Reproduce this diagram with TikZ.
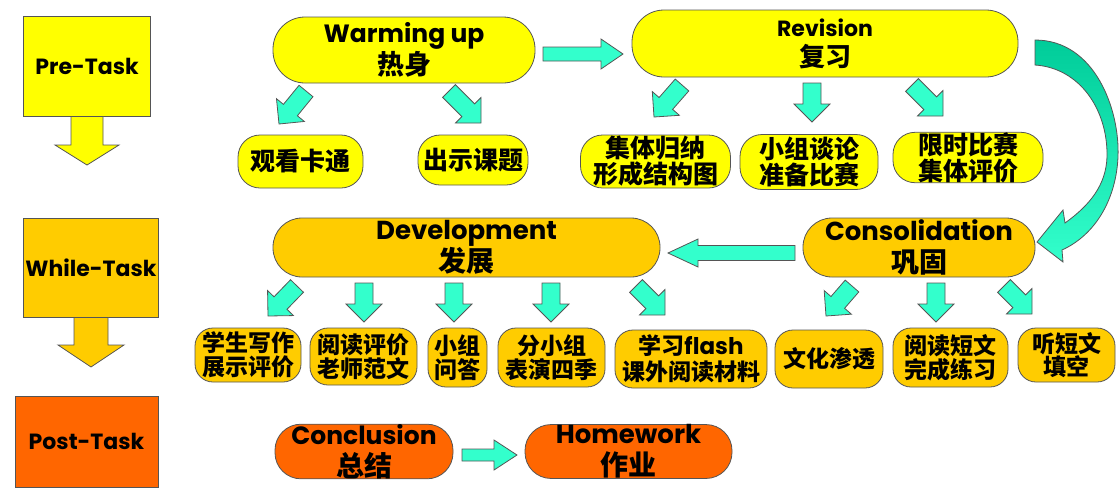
\documentclass[tikz,border=0pt]{standalone}
\usepackage{fontspec}
\usetikzlibrary{calc}
\newfontfamily\enfont{Poppins}
\newfontfamily\cjk{Noto Sans CJK SC}
\definecolor{TaskYellow}{HTML}{FFFF00}
\definecolor{TaskGold}{HTML}{FFCC00}
\definecolor{TaskOrange}{HTML}{FF6600}
\definecolor{ArrowCyan}{HTML}{33FFCC}
\definecolor{ArrowTeal}{HTML}{00CC99}
\definecolor{EdgeGray}{HTML}{555555}
\newcommand{\en}[1]{{\enfont\bfseries #1}}
\newcommand{\zh}[1]{{\cjk\bfseries #1}}
% fat block arrow: [fill]{from}{to}{shaft half}{head half}{head length}
\newcommand{\fatarrow}[6][ArrowCyan]{%
  \coordinate (hb) at ($(#3)!#6!(#2)$);
  \draw[fill=#1, draw=EdgeGray, line width=0.4pt]
    ($(#2)!#4!90:(#3)$) -- ($(hb)!#4!90:(#3)$) -- ($(hb)!#5!90:(#3)$) -- (#3)
    -- ($(hb)!#5!-90:(#3)$) -- ($(hb)!#4!-90:(#3)$) -- ($(#2)!#4!-90:(#3)$) -- cycle;}

\begin{document}
\begin{tikzpicture}[
  x=0.5pt, y=-0.5pt,
  taskbox/.style={draw=EdgeGray, line width=0.4pt, inner sep=0pt, font=\enfont\bfseries\fontsize{11}{13}\selectfont},
  phase/.style={draw=EdgeGray, line width=0.4pt, rounded corners=#1, align=center, inner sep=0pt, font=\fontsize{12}{15}\selectfont},
  phase/.default=16pt,
  item/.style={draw=EdgeGray, line width=0.4pt, rounded corners=#1, align=center, inner sep=0pt, font=\cjk\bfseries\fontsize{12.5}{13}\selectfont},
  item/.default=11pt,
  low/.style={item=9pt, fill=TaskGold, font=\cjk\bfseries\fontsize{11.5}{11.8}\selectfont}
]
\useasboundingbox (0,0) rectangle (1119,488);

% stages on the left
\node[taskbox, fill=TaskYellow, minimum width=63.5pt, minimum height=50pt] (pre) at (87,66) {Pre-Task};
\node[taskbox, fill=TaskGold, minimum width=67.5pt, minimum height=49.5pt] (while) at (91,267.5) {While-Task};
\node[taskbox, fill=TaskOrange, minimum width=71.5pt, minimum height=45.5pt] (post) at (86.5,441.5) {Post-Task};
\coordinate (pretip) at (87,165);
\coordinate (whiletip) at (91,367);
\fatarrow[TaskYellow]{pre.south}{pretip}{8pt}{16pt}{10pt}
\fatarrow[TaskGold]{while.south}{whiletip}{8.5pt}{16.5pt}{11pt}

% pre-task
\node[phase, fill=TaskYellow, minimum width=131pt, minimum height=33pt, font=\fontsize{12.5}{15}\selectfont] (warm) at (404,50)
  {\en{Warming up}\\\zh{\fontsize{13.5}{15}\selectfont 热身}};
\node[phase, fill=TaskYellow, minimum width=193pt, minimum height=33.5pt, font=\fontsize{11}{15}\selectfont] (rev) at (825,43.5)
  {\en{Revision}\\\zh{\fontsize{13}{15}\selectfont 复习}};
\node[item, fill=TaskYellow, minimum width=62.5pt, minimum height=26.5pt] (cartoon) at (300.5,161.5) {观看卡通};
\node[item, fill=TaskYellow, minimum width=55pt, minimum height=25pt] (topic) at (473,160) {出示课题};
\node[item, fill=TaskYellow, minimum width=75pt, minimum height=26.5pt] (sum) at (655.5,161.5) {集体归纳\\形成结构图};
\node[item, fill=TaskYellow, minimum width=69pt, minimum height=27.5pt] (talk) at (809,162) {小组谈论\\准备比赛};
\node[item, fill=TaskYellow, minimum width=75pt, minimum height=22.5pt] (race) at (968,157.5) {限时比赛\\集体评价};

\coordinate (wr1) at (543,54);  \coordinate (wr2) at (623,54);
\coordinate (w1a) at (306,91);  \coordinate (w1b) at (279,124);
\coordinate (w2a) at (449,91);  \coordinate (w2b) at (481,123);
\coordinate (r1a) at (682,85);  \coordinate (r1b) at (654,117);
\coordinate (r2a) at (812,83);  \coordinate (r2b) at (812,122);
\coordinate (r3a) at (912,85);  \coordinate (r3b) at (943,116);
\fatarrow{wr1}{wr2}{3.5pt}{7.5pt}{11pt}
\fatarrow{w1a}{w1b}{4.5pt}{9pt}{9pt}
\fatarrow{w2a}{w2b}{4.5pt}{9pt}{9pt}
\fatarrow{r1a}{r1b}{4.5pt}{9pt}{9pt}
\fatarrow{r2a}{r2b}{4.5pt}{9pt}{9pt}
\fatarrow{r3a}{r3b}{4.5pt}{9pt}{9pt}

% revision to consolidation
\path[draw=EdgeGray, line width=0.4pt, top color=ArrowTeal, bottom color=ArrowCyan]
  (1035,40) .. controls (1095,40) and (1120,110) .. (1118,157)
  .. controls (1116,200) and (1095,235) .. (1062,250) -- (1063,262) -- (1037,242)
  -- (1063,210) -- (1065,223) .. controls (1090,205) and (1106,185) .. (1107,157)
  .. controls (1108,110) and (1080,68) .. (1035,65) -- cycle;

% while-task
\node[phase=14.5pt, fill=TaskGold, minimum width=193.5pt, minimum height=29.5pt, font=\fontsize{13}{16}\selectfont] (dev) at (466.5,247.5)
  {\en{Development}\\\zh{\fontsize{14}{16}\selectfont 发展}};
\node[phase=14.5pt, fill=TaskGold, minimum width=116pt, minimum height=29.5pt, font=\fontsize{13}{16}\selectfont] (cons) at (919,247.5)
  {\en{Consolidation}\\\zh{\fontsize{14}{16}\selectfont 巩固}};
\coordinate (cd1) at (795,253); \coordinate (cd2) at (668,253);
\fatarrow{cd1}{cd2}{3.75pt}{7pt}{15pt}

\node[low, minimum width=53pt, minimum height=27pt] (write) at (248,355) {学生写作\\展示评价};
\node[low, minimum width=53.5pt, minimum height=28.5pt] (model) at (363.5,356.5) {阅读评价\\老师范文};
\node[low, minimum width=29.5pt, minimum height=29.5pt] (qa) at (457.5,357.5) {小组\\问答};
\node[low, minimum width=53.5pt, minimum height=29.5pt] (act) at (551.5,357.5) {分小组\\表演四季};
\node[low, minimum width=76pt, minimum height=29pt, font=\cjk\bfseries\fontsize{11.5}{13}\selectfont] (flash) at (691,359) {学习\en{flash}\\课外阅读材料};
\node[low, minimum width=54pt, minimum height=29pt] (culture) at (829,359) {文化渗透};
\node[low, minimum width=57.5pt, minimum height=29.5pt] (read) at (950.5,357.5) {阅读短文\\完成练习};
\node[low, minimum width=48.5pt, minimum height=27pt] (listen) at (1066.5,355) {听短文\\填空};

\coordinate (g1a) at (297,286);  \coordinate (g1b) at (268,316);
\coordinate (g2a) at (364,283);  \coordinate (g2b) at (364,322);
\coordinate (g3a) at (454,283);  \coordinate (g3b) at (454,322);
\coordinate (g4a) at (551,283);  \coordinate (g4b) at (551,322);
\coordinate (g5a) at (636,286);  \coordinate (g5b) at (665,315);
\coordinate (h1a) at (852,286);  \coordinate (h1b) at (826,316);
\coordinate (h2a) at (936,283);  \coordinate (h2b) at (936,322);
\coordinate (h3a) at (1004,286); \coordinate (h3b) at (1032,314);
\fatarrow{g1a}{g1b}{4.5pt}{9pt}{9pt}
\fatarrow{g2a}{g2b}{4.5pt}{9pt}{9pt}
\fatarrow{g3a}{g3b}{4.5pt}{9pt}{9pt}
\fatarrow{g4a}{g4b}{4.5pt}{9pt}{9pt}
\fatarrow{g5a}{g5b}{4.5pt}{9pt}{9pt}
\fatarrow{h1a}{h1b}{4.5pt}{9pt}{9pt}
\fatarrow{h2a}{h2b}{4.5pt}{9pt}{9pt}
\fatarrow{h3a}{h3b}{4.5pt}{9pt}{9pt}

% post-task
\node[phase=13pt, fill=TaskOrange, minimum width=89pt, minimum height=26.5pt, font=\fontsize{12.5}{16}\selectfont] (concl) at (364,451.5)
  {\en{Conclusion}\\\zh{\fontsize{14}{16}\selectfont 总结}};
\node[phase=13pt, fill=TaskOrange, minimum width=103.5pt, minimum height=26.5pt, font=\fontsize{13}{16}\selectfont] (hw) at (628.5,451.5)
  {\en{Homework}\\\zh{\fontsize{14}{16}\selectfont 作业}};
\coordinate (ch1) at (462,455); \coordinate (ch2) at (517,455);
\fatarrow{ch1}{ch2}{3pt}{7.5pt}{11.5pt}
\end{tikzpicture}
\end{document}
